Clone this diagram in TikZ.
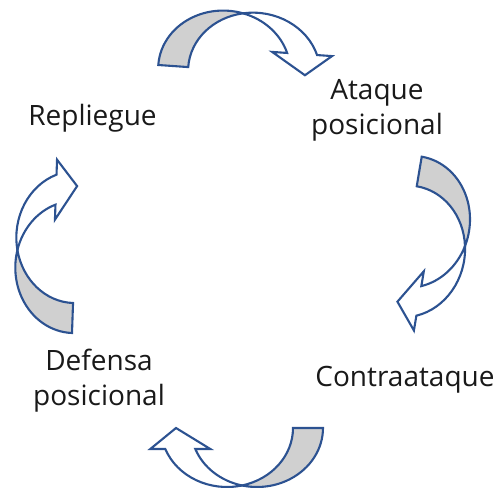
\documentclass[tikz,border=0pt]{standalone}
\usepackage{fontspec}
\setmainfont{Open Sans}
\definecolor{arrowline}{RGB}{44,82,145}
\definecolor{arrowback}{RGB}{208,208,208}
\definecolor{labeltext}{RGB}{25,25,25}
% Curved ribbon arrow: two equal ellipses (radii 66 x 59) offset by the band width 30.
% Local frame: base on the x axis, band rising to the crest and falling into the head.
\newcommand{\cyclearrow}[3]{%
  \begin{scope}[shift={(#1,#2)},rotate=#3]
    % front band with the arrow head
    \filldraw[ribbon,fill=white]
      (147,0) -- (112.68,21) -- (127.68,21)
      arc[start angle=20.85,end angle=76.86,x radius=66,y radius=59]
      arc[start angle=103.14,end angle=20.85,x radius=66,y radius=59]
      -- (172.68,21) -- cycle;
    % shaded back band, tapering to the crossing point
    \filldraw[ribbon,fill=arrowback]
      (81,57.46) arc[start angle=103.14,end angle=180,x radius=66,y radius=59]
      -- (0,0)
      arc[start angle=180,end angle=76.86,x radius=66,y radius=59]
      -- cycle;
  \end{scope}}
\begin{document}
\begin{tikzpicture}[x=1pt,y=1pt,
  ribbon/.style={draw=arrowline,line width=2.1pt,line join=miter},
  phase/.style={text=labeltext,font=\fontsize{28}{35}\selectfont,align=center,inner sep=0pt}]
\useasboundingbox (0,0) rectangle (499,488);

\cyclearrow{158.3}{423}{-4}
\cyclearrow{421.7}{331.3}{-99.5}
\cyclearrow{323}{60}{180}
\cyclearrow{72}{155}{88}

\node[phase,anchor=base] (repliegue) at (92.5,362) {Repliegue};
\node[phase,anchor=base] (ataque) at (377,353) {Ataque\\posicional};
\node[phase,anchor=base] (contra) at (405,101) {Contraataque};
\node[phase,anchor=base] (defensa) at (99,82) {Defensa\\posicional};
\end{tikzpicture}
\end{document}
